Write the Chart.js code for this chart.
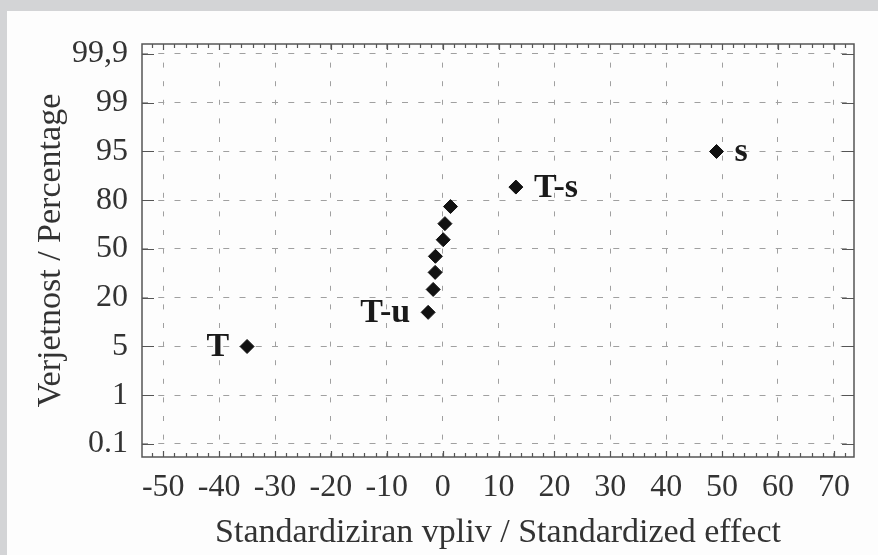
<!DOCTYPE html>
<html>
<head>
<meta charset="utf-8">
<script src="https://cdn.jsdelivr.net/npm/chart.js@4/dist/chart.umd.min.js"></script>
<style>
  html, body { margin: 0; padding: 0; background: #d3d4d6; }
  #wrap { width: 878px; height: 555px; position: relative; }
  canvas { display: block; }
</style>
</head>
<body>
<div id="wrap"><canvas id="c" width="878" height="555"></canvas></div>
<script>
// ---- data ----
const effectNames = ['T', 'T-u', '', '', '', '', '', '', 'T-s', 's'];
const labelSide   = ['left', 'left', '', '', '', '', '', '', 'right', 'right'];
const standardizedEffect = [-35, -2.6, -1.7, -1.35, -1.3, 0.1, 0.4, 1.4, 13.1, 49.0];
// position on the probability axis, in units of the (equally spaced) tick rows
const probabilityRank = [2.0, 2.70, 3.17, 3.52, 3.85, 4.19, 4.52, 4.87, 5.27, 6.0];
const xTickValues = [-50, -40, -30, -20, -10, 0, 10, 20, 30, 40, 50, 60, 70];
const yTickLabels = ['0.1', '1', '5', '20', '50', '80', '95', '99', '99,9'];
const xTitle = 'Standardiziran vpliv / Standardized effect';
const yTitle = 'Verjetnost / Percentage';

const points = standardizedEffect.map((x, i) => ({ x: x, y: probabilityRank[i] }));

const SERIF = "'Liberation Serif', 'Times New Roman', 'DejaVu Serif', serif";

const backgroundPlugin = {
  id: 'panelBackground',
  beforeDraw(chart) {
    const ctx = chart.ctx;
    ctx.save();
    ctx.fillStyle = '#d3d4d6';
    ctx.fillRect(0, 0, chart.width, chart.height);
    ctx.fillStyle = '#fdfdfd';
    ctx.fillRect(7, 11, chart.width - 7, chart.height - 11);
    ctx.restore();
  }
};

const framePlugin = {
  id: 'frame',
  afterDatasetsDraw(chart) {
    const { ctx, chartArea: a, scales } = chart;
    const xs = scales.x, ys = scales.y;
    ctx.save();
    ctx.strokeStyle = '#555555';
    ctx.lineWidth = 1.5;
    ctx.strokeRect(a.left, a.top, a.right - a.left, a.bottom - a.top);
    ctx.lineWidth = 1.2;
    ctx.beginPath();
    // left / right ticks at each probability row
    for (let i = 0; i < yTickLabels.length; i++) {
      const py = Math.round(ys.getPixelForValue(i)) + 0.5;
      ctx.moveTo(a.left, py); ctx.lineTo(a.left + 12, py);
      ctx.moveTo(a.right, py); ctx.lineTo(a.right - 12, py);
    }
    // top / bottom minor ticks every 2 units
    const start = Math.ceil(xs.min / 2) * 2;
    for (let v = start; v <= xs.max; v += 2) {
      const px = Math.round(xs.getPixelForValue(v)) + 0.5;
      const len = (v % 10 === 0) ? 6 : 4;
      ctx.moveTo(px, a.top); ctx.lineTo(px, a.top + len);
      ctx.moveTo(px, a.bottom); ctx.lineTo(px, a.bottom - len);
    }
    ctx.stroke();
    ctx.restore();
  }
};

const labelPlugin = {
  id: 'pointNames',
  afterDatasetsDraw(chart) {
    const ctx = chart.ctx;
    const meta = chart.getDatasetMeta(0);
    ctx.save();
    ctx.font = "bold 34px " + SERIF;
    ctx.fillStyle = '#1a1a1a';
    ctx.textBaseline = 'alphabetic';
    meta.data.forEach((el, i) => {
      const name = effectNames[i];
      if (!name) return;
      if (labelSide[i] === 'left') {
        ctx.textAlign = 'right';
        ctx.fillText(name, el.x - 18, el.y + 10);
      } else {
        ctx.textAlign = 'left';
        ctx.fillText(name, el.x + 18, el.y + 10);
      }
    });
    ctx.restore();
  }
};

new Chart(document.getElementById('c'), {
  type: 'scatter',
  data: {
    datasets: [{
      data: points,
      pointStyle: 'rectRot',
      pointRadius: 7,
      pointHoverRadius: 7,
      pointBackgroundColor: '#111111',
      pointBorderColor: '#111111',
      pointBorderWidth: 1
    }]
  },
  options: {
    responsive: false,
    animation: false,
    events: [],
    layout: { padding: { top: 44, right: 24, left: 0, bottom: 0 } },
    plugins: {
      legend: { display: false },
      tooltip: { enabled: false },
      title: { display: false }
    },
    scales: {
      x: {
        type: 'linear',
        position: 'bottom',
        min: -53.8,
        max: 73.6,
        afterBuildTicks: s => { s.ticks = xTickValues.map(v => ({ value: v })); },
        afterFit: s => { s.height = 98; },
        ticks: {
          font: { family: SERIF, size: 32 },
          color: '#333333',
          padding: 11,
          maxRotation: 0,
          autoSkip: false
        },
        grid: { color: '#a0a0a0', lineWidth: 1, drawTicks: false },
        border: { display: false, dash: [5, 13.6] },
        title: {
          display: true,
          text: xTitle,
          color: '#333333',
          font: { family: SERIF, size: 34 },
          padding: { top: 0, bottom: 2 }
        }
      },
      y: {
        type: 'linear',
        position: 'left',
        min: -0.267,
        max: 8.205,
        afterBuildTicks: s => { s.ticks = yTickLabels.map((t, i) => ({ value: i })); },
        afterFit: s => { s.width = 142; },
        ticks: {
          font: { family: SERIF, size: 32 },
          color: '#333333',
          padding: 14,
          autoSkip: false,
          callback: v => yTickLabels[Math.round(v)]
        },
        grid: { color: '#a0a0a0', lineWidth: 1, drawTicks: false },
        border: { display: false, dash: [6, 10.25] },
        title: {
          display: true,
          text: yTitle,
          color: '#333333',
          font: { family: SERIF, size: 34 },
          padding: { top: 31, bottom: 0 }
        }
      }
    }
  },
  plugins: [backgroundPlugin, framePlugin, labelPlugin]
});
</script>
</body>
</html>
